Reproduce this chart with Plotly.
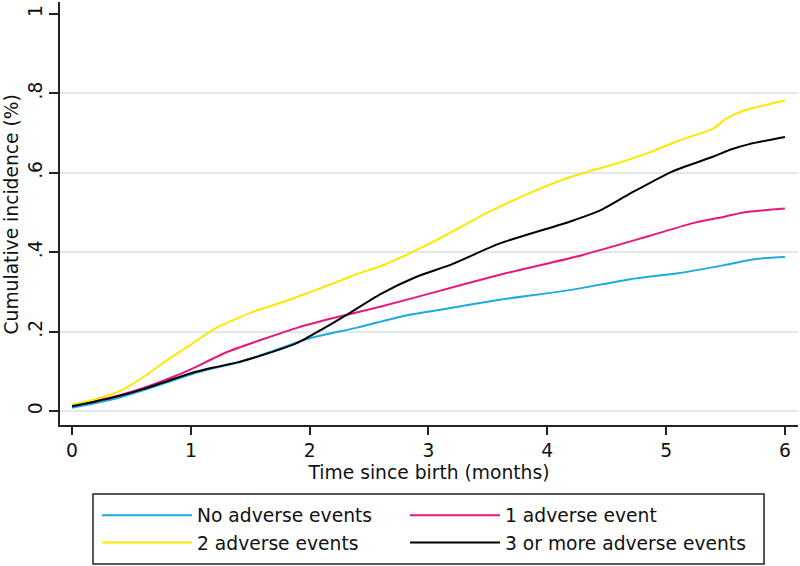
import plotly.graph_objects as go

# ---- data ----
series_names = ["No adverse events", "1 adverse event", "2 adverse events", "3 or more adverse events"]

x_none = [0, 0.2, 0.4, 0.6, 0.8, 1.0, 1.2, 1.4, 1.7, 2.0, 2.4, 2.8, 3.1, 3.6, 4.2, 4.7, 5.1, 5.5, 5.75, 6.0]
y_none = [0.008, 0.02, 0.034, 0.052, 0.072, 0.092, 0.108, 0.122, 0.152, 0.183, 0.21, 0.24, 0.255, 0.28,
          0.305, 0.332, 0.347, 0.368, 0.383, 0.388]

x_one = [0, 0.2, 0.4, 0.6, 0.8, 1.0, 1.3, 1.6, 1.9, 2.2, 2.6, 3.0, 3.6, 4.3, 4.85, 5.25, 5.5, 5.65, 6.0]
y_one = [0.015, 0.026, 0.04, 0.058, 0.08, 0.105, 0.148, 0.18, 0.21, 0.234, 0.263, 0.295, 0.343, 0.393,
         0.44, 0.475, 0.49, 0.5, 0.51]

x_two = [0, 0.2, 0.4, 0.6, 0.8, 1.0, 1.2, 1.5, 1.8, 2.1, 2.4, 2.6, 3.0, 3.5, 3.9, 4.2, 4.6, 4.85, 5.1,
         5.4, 5.5, 5.65, 5.8, 6.0]
y_two = [0.015, 0.03, 0.05, 0.085, 0.128, 0.167, 0.207, 0.247, 0.277, 0.31, 0.345, 0.365, 0.42, 0.5,
         0.555, 0.59, 0.625, 0.65, 0.68, 0.712, 0.735, 0.756, 0.768, 0.782]

x_three = [0, 0.2, 0.4, 0.6, 0.8, 1.0, 1.2, 1.4, 1.7, 1.9, 2.1, 2.3, 2.6, 2.9, 3.2, 3.6, 4.2, 4.45, 4.7,
           5.05, 5.4, 5.55, 5.7, 6.0]
y_three = [0.012, 0.024, 0.038, 0.055, 0.075, 0.095, 0.11, 0.123, 0.15, 0.172, 0.205, 0.24, 0.295, 0.338,
           0.37, 0.422, 0.478, 0.506, 0.548, 0.603, 0.641, 0.659, 0.672, 0.69]

x_ticks = [0, 1, 2, 3, 4, 5, 6]
y_ticks = [0, 0.2, 0.4, 0.6, 0.8, 1.0]
y_ticklabels = ["0", ".2", ".4", ".6", ".8", "1"]
y_grid = [0, 0.2, 0.4, 0.6, 0.8]

x_title = "Time since birth (months)"
y_title = "Cumulative incidence (%)"

colors = ["#1fa9e1", "#e8177d", "#ffe800", "#000000"]
legend_ids = ["legend", "legend2", "legend", "legend2"]
FONT = "DejaVu Sans"
FS = 18.7

fig = go.Figure()
for name, xs, ys, c, lg in zip(series_names, [x_none, x_one, x_two, x_three],
                               [y_none, y_one, y_two, y_three], colors, legend_ids):
    fig.add_trace(go.Scatter(x=xs, y=ys, mode="lines", name=name, legend=lg,
                             line=dict(color=c, width=2, shape="spline", smoothing=0.6)))

legend_common = dict(orientation="v", xref="container", yref="container",
                     xanchor="left", yanchor="top", itemwidth=90, borderwidth=0,
                     bgcolor="rgba(0,0,0,0)", font=dict(family=FONT, size=FS, color="#111"),
                     traceorder="normal")

fig.update_layout(
    width=800, height=566,
    margin=dict(l=60, r=2, t=2, b=141, autoexpand=False),
    paper_bgcolor="white", plot_bgcolor="white",
    font=dict(family=FONT, size=FS, color="#111"),
    showlegend=True,
    legend=dict(x=0.12125, y=0.1228, **legend_common),
    legend2=dict(x=0.12125 + 308 / 800, y=0.1228, **legend_common),
    shapes=[dict(type="rect", xref="paper", yref="paper",
                 x0=0.0447, x1=0.954, y0=-0.3286, y1=-0.1631,
                 line=dict(color="#222", width=1.5), fillcolor="rgba(0,0,0,0)", layer="above")],
    annotations=[dict(text=y_title, xref="paper", yref="paper", x=-0.0657, y=0.4965,
                      xanchor="center", yanchor="middle", textangle=-90, showarrow=False,
                      font=dict(family=FONT, size=FS, color="#111"))],
)

fig.update_xaxes(
    range=[-0.101, 6.110], tickvals=x_ticks, ticktext=[str(v) for v in x_ticks],
    ticks="outside", ticklen=8, tickwidth=1.5, tickcolor="#222", automargin=False,
    showline=True, linecolor="#222", linewidth=1.5, showgrid=False, zeroline=False,
    title=dict(text=x_title, standoff=6, font=dict(family=FONT, size=FS)),
    tickfont=dict(family=FONT, size=FS), ticklabeloverflow="allow",
)
fig.update_yaxes(
    range=[-0.0353, 1.030], tickvals=y_ticks, ticktext=y_ticklabels, tickangle=-90,
    ticks="outside", ticklen=9, tickwidth=1.5, tickcolor="#222", automargin=False,
    showline=True, linecolor="#222", linewidth=1.5, showgrid=False, zeroline=False,
    minor=dict(tickvals=y_grid, showgrid=True, gridcolor="#e1e8f0", gridwidth=2, ticks=""),
    tickfont=dict(family=FONT, size=FS), ticklabeloverflow="allow",
)

# remove the browser's default 8px body margin so the figure sits at the window origin
fig.write_html("out.html", config={"displayModeBar": False},
               post_script="document.body.style.margin='0px';")
